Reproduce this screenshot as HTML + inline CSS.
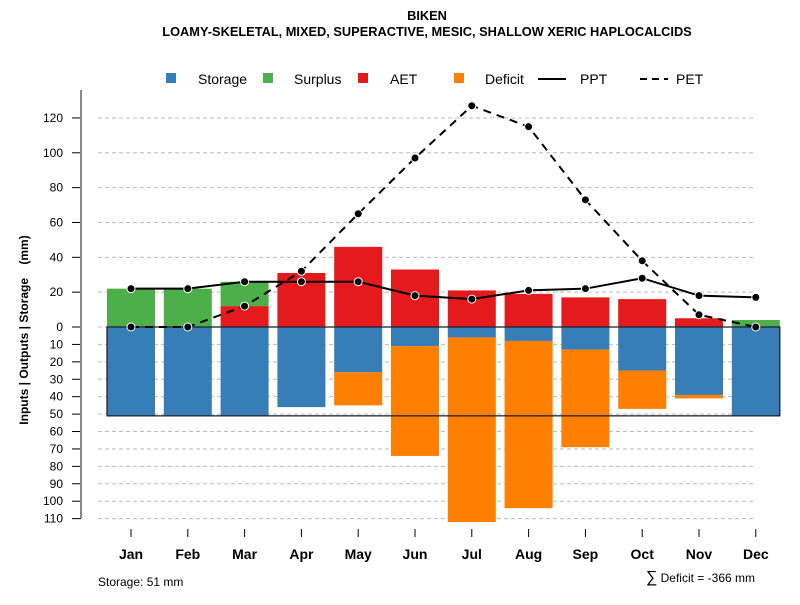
<!DOCTYPE html>
<html><head><meta charset="utf-8"><style>
body{margin:0;background:#fff;font-family:"Liberation Sans",sans-serif}
</style></head><body>
<svg id="c" width="800" height="600" xmlns="http://www.w3.org/2000/svg" font-family="Liberation Sans, sans-serif">
<text x="427" y="20" text-anchor="middle" font-size="12.8" font-weight="bold">BIKEN</text>
<text x="427" y="36" text-anchor="middle" font-size="12.8" font-weight="bold">LOAMY-SKELETAL, MIXED, SUPERACTIVE, MESIC, SHALLOW XERIC HAPLOCALCIDS</text>
<text transform="translate(28,330) rotate(-90)" text-anchor="middle" font-size="12" font-weight="bold" style="white-space:pre">Inputs | Outputs | Storage    (mm)</text>
<g id="grid"></g><g id="bars"></g><g id="lines"></g><g id="axes"></g>
<g font-size="14">
<rect x="166" y="73" width="10" height="10" fill="#377EB8"/>
<text x="198" y="84">Storage</text>
<rect x="263" y="73" width="10" height="10" fill="#4DAF4A"/>
<text x="294" y="84">Surplus</text>
<rect x="358" y="73" width="10" height="10" fill="#E41A1C"/>
<text x="390" y="84">AET</text>
<rect x="454" y="73" width="10" height="10" fill="#FF7F00"/>
<text x="485" y="84">Deficit</text>
<line x1="538" y1="79" x2="566" y2="79" stroke="#000" stroke-width="2"/>
<text x="580" y="84">PPT</text>
<line x1="640" y1="79" x2="668" y2="79" stroke="#000" stroke-width="2" stroke-dasharray="7,5"/>
<text x="676" y="84">PET</text>
</g>
<text x="98" y="586" font-size="12">Storage: 51 mm</text>
<text x="755" y="582" text-anchor="end" font-size="12"><tspan font-size="16">∑</tspan> Deficit = -366 mm</text>
</svg>
<script>
const months=["Jan","Feb","Mar","Apr","May","Jun","Jul","Aug","Sep","Oct","Nov","Dec"];
const surplus=[22,22,14,0,0,0,0,0,0,0,0,4];
const aet=[0,0,12,31,46,33,21,19,17,16,5,0];
const storage=[51,51,51,46,26,11,6,8,13,25,39,51];
const deficit=[0,0,0,0,19,63,106,96,56,22,2,0];
const ppt=[22,22,26,26,26,18,16,21,22,28,18,17];
const pet=[0,0,12,32,65,97,127,115,73,38,7,0];
const upTicks=[0,20,40,60,80,100,120];
const downTicks=[10,20,30,40,50,60,70,80,90,100,110];
const capacity=51;
const NS="http://www.w3.org/2000/svg";
const y=v=>327-v*1.742;
const x=i=>131+i*56.8;
const bw=48;
function mk(p,t,a){const e=document.createElementNS(NS,t);for(const k in a)e.setAttribute(k,a[k]);document.getElementById(p).appendChild(e);return e;}
upTicks.concat(downTicks.map(d=>-d)).forEach(v=>{
 const g=mk('grid','line',{x1:98,x2:755,y1:y(v),y2:y(v),stroke:'#bbb','stroke-dasharray':'4,3'});
 
 
 const t=mk('axes','line',{x1:72,x2:81,y1:y(v),y2:y(v),stroke:'#000'});
 
 
 const l=mk('axes','text',{x:63,y:y(v)+4,'text-anchor':'end','font-size':12});
 l.textContent=Math.abs(v);
 
 
});
const ax=mk('axes','line',{x1:81,x2:81,y1:90,y2:518,stroke:'#888','stroke-width':2});


months.forEach((m,i)=>{
 const cx=x(i),x0=cx-bw/2;
 function bar(v0,v1,c,n){if(v1===v0)return;const r=mk('bars','rect',{x:x0,y:Math.min(y(v0),y(v1)),width:bw,height:Math.abs(y(v1)-y(v0)),fill:c});
  
  }
 bar(0,aet[i],'#E41A1C','aet');
 bar(aet[i],aet[i]+surplus[i],'#4DAF4A','surplus');
 bar(0,-storage[i],'#377EB8','storage');
 bar(-storage[i],-storage[i]-deficit[i],'#FF7F00','deficit');
 const t=mk('axes','line',{x1:cx,x2:cx,y1:529,y2:537,stroke:'#000'});
 
 
 const l=mk('axes','text',{x:cx,y:559,'text-anchor':'middle','font-size':14,'font-weight':'bold'});
 l.textContent=m;
 
 
});
const x0=x(0)-bw/2,x1=x(11)+bw/2;
const cap=mk('bars','rect',{x:x0,y:y(0),width:x1-x0,height:y(-capacity)-y(0),fill:'none',stroke:'#223',"stroke-width":1.3});


function series(d,dash,n){
 const p=mk('lines','polyline',{points:d.map((v,i)=>x(i)+','+y(v)).join(' '),fill:'none',stroke:'#000','stroke-width':2,'stroke-dasharray':dash});
 
 
 d.forEach((v,i)=>{const c=mk('lines','circle',{cx:x(i),cy:y(v),r:4,fill:'#000',stroke:'#fff','stroke-width':1});
  
  });
}
series(ppt,'none','ppt');
series(pet,'8,6','pet');
</script>
</body></html>
